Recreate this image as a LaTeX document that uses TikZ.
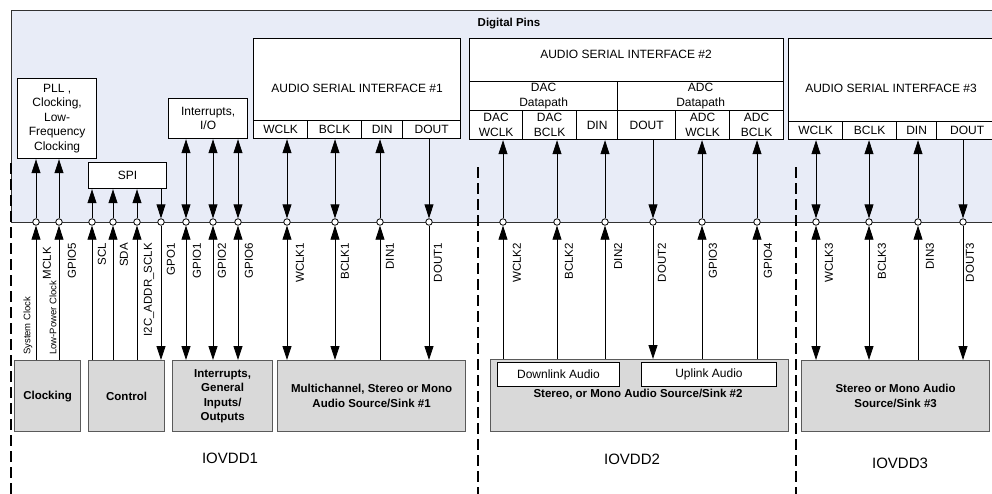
\documentclass[tikz,border=0pt]{standalone}
\usepackage{fontspec}
\setmainfont{Liberation Sans}
\usetikzlibrary{arrows.meta}
\definecolor{pinbg}{RGB}{232,236,247}
\definecolor{boxgray}{RGB}{217,217,217}
\definecolor{boxedge}{RGB}{90,90,90}
\definecolor{darkline}{RGB}{50,50,50}
\begin{document}
\begin{tikzpicture}[x=1pt,y=-1pt,
  >={Triangle[length=14pt,width=9pt]},
  sz/.style 2 args={anchor=north west, minimum width=#1pt, minimum height=#2pt},
  wbox/.style={draw=black, line width=1.2pt, fill=white, inner sep=0pt, align=center, font=\fontsize{12}{14.5}\selectfont},
  gbox/.style={draw=boxedge, line width=1.2pt, fill=boxgray, inner sep=0pt, align=center, font=\bfseries\fontsize{11.5}{14.5}\selectfont},
  pinc/.style={circle, draw=black, fill=white, line width=0.8pt, inner sep=0pt, minimum size=6.5pt},
  conn/.style={line width=0.8pt},
  plab/.style={rotate=90, anchor=east, inner sep=0pt, font=\fontsize{11.5}{13}\selectfont},
  slab/.style={rotate=90, anchor=west, inner sep=0pt, font=\fontsize{9.5}{11}\selectfont},
  vdd/.style={dash pattern=on 11pt off 5pt, line width=2.6pt},
  vlab/.style={font=\fontsize{15}{18}\selectfont},
  ttl/.style={font=\fontsize{12}{14.5}\selectfont},
]
\useasboundingbox (0,0) rectangle (992,493);
\clip (0,0) rectangle (992,493);

% digital pins area
\node[draw=darkline, fill=pinbg, line width=0.8pt, inner sep=0pt, sz={989}{212}] (dp) at (11,10) {};
\node[font=\bfseries\fontsize{11.5}{14}\selectfont] (dptitle) at (509,24) {Digital Pins};

% upper boxes
\node[wbox, sz={79}{80}] (pll) at (17,78) {PLL ,\\Clocking,\\Low-\\Frequency\\Clocking};
\node[wbox, sz={78}{26}] (spi) at (88,162) {SPI};
\node[wbox, sz={79}{40}] (intio) at (168,98) {Interrupts,\\I/O};

% ASI 1
\node[wbox, sz={207}{100}] (asi1) at (253,38) {AUDIO SERIAL INTERFACE \#1};
\node[wbox, sz={54}{18}] (a1c1) at (253,120) {WCLK};
\node[wbox, sz={54}{18}] (a1c2) at (307,120) {BCLK};
\node[wbox, sz={41}{18}] (a1c3) at (361,120) {DIN};
\node[wbox, sz={58}{18}] (a1c4) at (402,120) {DOUT};

% ASI 2
\node[wbox, sz={314}{101}] (asi2) at (469,38) {};
\node[ttl] (asi2t) at (626,54) {AUDIO SERIAL INTERFACE \#2};
\node[wbox, sz={148}{29}] (dacdp) at (469,81) {DAC\\Datapath};
\node[wbox, sz={166}{29}] (adcdp) at (617,81) {ADC\\Datapath};
\node[wbox, sz={53}{29}] (a2c1) at (469,110) {DAC\\WCLK};
\node[wbox, sz={54}{29}] (a2c2) at (522,110) {DAC\\BCLK};
\node[wbox, sz={41}{29}] (a2c3) at (576,110) {DIN};
\node[wbox, sz={58}{29}] (a2c4) at (617,110) {DOUT};
\node[wbox, sz={54}{29}] (a2c5) at (675,110) {ADC\\WCLK};
\node[wbox, sz={54}{29}] (a2c6) at (729,110) {ADC\\BCLK};

% ASI 3
\node[wbox, sz={209}{101}] (asi3) at (788,38) {};
\node[ttl] (asi3t) at (891,88) {AUDIO SERIAL INTERFACE \#3};
\node[wbox, sz={54}{18}] (a3c1) at (788,121) {WCLK};
\node[wbox, sz={54}{18}] (a3c2) at (842,121) {BCLK};
\node[wbox, sz={40}{18}] (a3c3) at (896,121) {DIN};
\node[wbox, sz={61}{18}] (a3c4) at (936,121) {DOUT};

% lower boxes
\node[gbox, sz={66}{71}] (clk) at (14,360) {Clocking};
\node[gbox, sz={76}{71}] (ctrl) at (88,360) {Control};
\node[gbox, sz={100}{71}] (gpio) at (172,360) {Interrupts,\\General\\Inputs/\\Outputs};
\node[gbox, sz={188}{71}] (ss1) at (277,360) {Multichannel, Stereo or Mono\\Audio Source/Sink \#1};
\node[gbox, sz={298}{72}] (ss2) at (490,359) {};
\node[wbox, line width=1pt, sz={122}{24}] (down) at (497,362) {Downlink Audio};
\node[wbox, line width=1pt, sz={135}{24}] (up) at (641,362) {Uplink Audio};
\node[font=\bfseries\fontsize{11.5}{14}\selectfont] (ss2t) at (638,394) {Stereo, or Mono Audio Source/Sink \#2};
\node[gbox, sz={188}{71}] (ss3) at (801,360) {Stereo or Mono Audio\\Source/Sink \#3};

% pins
\foreach \i/\x in {1/36,2/59,3/92,4/113,5/137,6/161,7/186,8/213,9/238,10/287,11/335,12/380,13/429,14/503,15/557,16/605,17/653,18/702,19/757,20/816,21/869,22/918,23/963}
  \node[pinc] (p\i) at (\x,222) {};

% upper connectors
\draw[conn,->] (p1) -- (p1 |- pll.south);
\draw[conn,->] (p2) -- (p2 |- pll.south);
\draw[conn,->] (p3) -- (p3 |- spi.south);
\draw[conn,->] (p4) -- (p4 |- spi.south);
\draw[conn,->] (p5) -- (p5 |- spi.south);
\draw[conn,->] (p6 |- spi.south) -- (p6);
\draw[conn,<->] (p7 |- intio.south) -- (p7);
\draw[conn,<->] (p8 |- intio.south) -- (p8);
\draw[conn,<->] (p9 |- intio.south) -- (p9);
\draw[conn,<->] (p10 |- a1c1.south) -- (p10);
\draw[conn,<->] (p11 |- a1c2.south) -- (p11);
\draw[conn,->] (p12) -- (p12 |- a1c3.south);
\draw[conn,->] (p13 |- a1c4.south) -- (p13);
\draw[conn,->] (p14) -- (p14 |- a2c1.south);
\draw[conn,->] (p15) -- (p15 |- a2c2.south);
\draw[conn,->] (p16) -- (p16 |- a2c3.south);
\draw[conn,->] (p17 |- a2c4.south) -- (p17);
\draw[conn,->] (p18) -- (p18 |- a2c5.south);
\draw[conn,->] (p19) -- (p19 |- a2c6.south);
\draw[conn,<->] (p20 |- a3c1.south) -- (p20);
\draw[conn,<->] (p21 |- a3c2.south) -- (p21);
\draw[conn,->] (p22) -- (p22 |- a3c3.south);
\draw[conn,->] (p23 |- a3c4.south) -- (p23);

% lower connectors
\draw[conn,->] (p1 |- clk.north) -- (p1);
\draw[conn,->] (p2 |- clk.north) -- (p2);
\draw[conn,->] (p3 |- ctrl.north) -- (p3);
\draw[conn,->] (p4 |- ctrl.north) -- (p4);
\draw[conn,->] (p5 |- ctrl.north) -- (p5);
\draw[conn,->] (p6) -- (p6 |- ctrl.north);
\draw[conn,<->] (p7) -- (p7 |- gpio.north);
\draw[conn,<->] (p8) -- (p8 |- gpio.north);
\draw[conn,<->] (p9) -- (p9 |- gpio.north);
\draw[conn,<->] (p10) -- (p10 |- ss1.north);
\draw[conn,<->] (p11) -- (p11 |- ss1.north);
\draw[conn,->] (p12 |- ss1.north) -- (p12);
\draw[conn,->] (p13) -- (p13 |- ss1.north);
\draw[conn,->] (p14 |- ss2.north) -- (p14);
\draw[conn,->] (p15 |- ss2.north) -- (p15);
\draw[conn,->] (p16 |- ss2.north) -- (p16);
\draw[conn,->] (p17) -- (p17 |- ss2.north);
\draw[conn,->] (p18 |- ss2.north) -- (p18);
\draw[conn,->] (p19 |- ss2.north) -- (p19);
\draw[conn,<->] (p20) -- (p20 |- ss3.north);
\draw[conn,<->] (p21) -- (p21 |- ss3.north);
\draw[conn,->] (p22 |- ss3.north) -- (p22);
\draw[conn,->] (p23) -- (p23 |- ss3.north);

% pin labels
\node[plab] (l1) at (47,247) {MCLK};
\node[plab] (l2) at (72,243) {GPIO5};
\node[plab] (l3) at (102,243) {SCL};
\node[plab] (l4) at (124,243) {SDA};
\node[plab] (l5) at (149,243) {I2C\_ADDR\_SCLK};
\node[plab] (l6) at (171,243) {GPO1};
\node[plab] (l7) at (197,243) {GPIO1};
\node[plab] (l8) at (222,243) {GPIO2};
\node[plab] (l9) at (249,243) {GPIO6};
\node[plab] (l10) at (300,243) {WCLK1};
\node[plab] (l11) at (345,243) {BCLK1};
\node[plab] (l12) at (390,243) {DIN1};
\node[plab] (l13) at (438,243) {DOUT1};
\node[plab] (l14) at (517,243) {WCLK2};
\node[plab] (l15) at (569,243) {BCLK2};
\node[plab] (l16) at (618,243) {DIN2};
\node[plab] (l17) at (662,243) {DOUT2};
\node[plab] (l18) at (713,243) {GPIO3};
\node[plab] (l19) at (768,243) {GPIO4};
\node[plab] (l20) at (829,243) {WCLK3};
\node[plab] (l21) at (882,243) {BCLK3};
\node[plab] (l22) at (930,243) {DIN3};
\node[plab] (l23) at (970,243) {DOUT3};
\node[slab] (s1) at (28,355) {System Clock};
\node[slab] (s2) at (53,355) {Low-Power Clock};

% IOVDD domains
\coordinate (d1t) at (11,163); \coordinate (d1b) at (11,495);
\coordinate (d2t) at (478,167); \coordinate (d2b) at (478,495);
\coordinate (d3t) at (796,167); \coordinate (d3b) at (796,495);
\draw[vdd] (d1t) -- (d1b);
\draw[vdd] (d2t) -- (d2b);
\draw[vdd] (d3t) -- (d3b);
\node[vlab] (v1) at (230,458) {IOVDD1};
\node[vlab] (v2) at (632,459) {IOVDD2};
\node[vlab] (v3) at (900,463) {IOVDD3};
\end{tikzpicture}
\end{document}
